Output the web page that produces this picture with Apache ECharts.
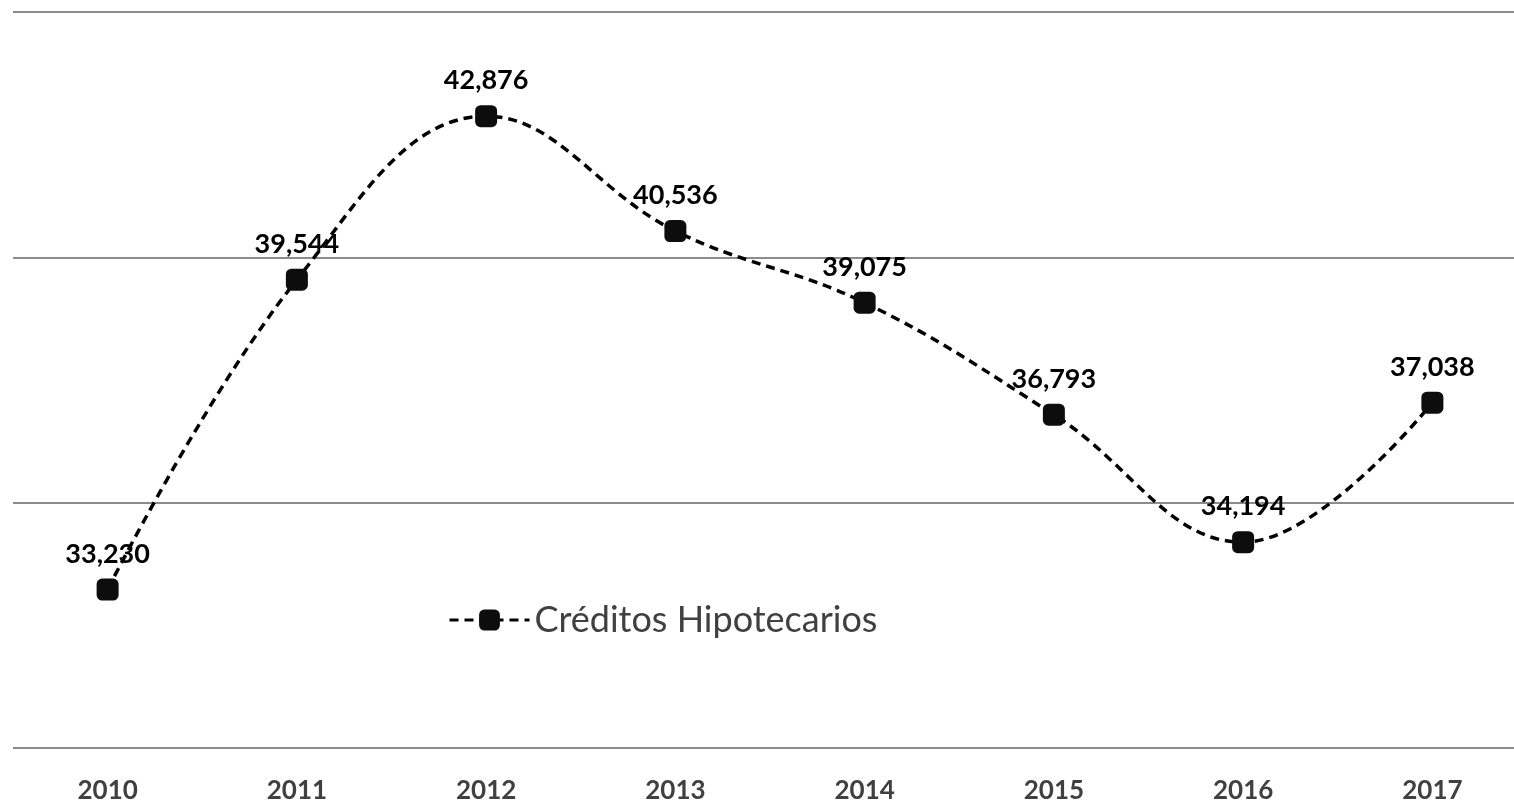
<!DOCTYPE html>
<html>
<head>
<meta charset="utf-8">
<title>Créditos Hipotecarios</title>
<script src="https://cdn.jsdelivr.net/npm/echarts@6/dist/echarts.min.js"></script>
<style>
  html, body { margin: 0; padding: 0; background: #fff; }
  #chart { width: 1514px; height: 805px; }
</style>
</head>
<body>
<div id="chart"></div>
<script>
const years = ["2010", "2011", "2012", "2013", "2014", "2015", "2016", "2017"]
const creditos = [33230, 39544, 42876, 40536, 39075, 36793, 34194, 37038]
const seriesName = "Créditos Hipotecarios"

const chart = echarts.init(document.getElementById("chart"))

const fmt = (v) => v.toLocaleString("en-US")

chart.setOption({
  animation: false,
  textStyle: { fontFamily: "Lato" },
  grid: {
    top: 12,
    left: 13,
    width: 1514,
    height: 736,
    outerBoundsMode: "none",
    containLabel: false,
  },
  legend: {
    left: 443,
    top: 597,
    itemWidth: 80,
    itemHeight: 26,
    itemGap: 8,
    textStyle: {
      fontFamily: "Lato",
      fontSize: 36,
      color: "#404040",
    },
    lineStyle: { width: 3, type: [9, 6], color: "#000" },
    data: [seriesName],
  },
  xAxis: {
    type: "category",
    data: years,
    boundaryGap: true,
    axisLine: { show: false },
    axisTick: { show: false },
    axisLabel: {
      margin: 30,
      fontFamily: "Lato",
      fontWeight: "bold",
      fontSize: 26,
      color: "#404040",
    },
  },
  yAxis: {
    type: "value",
    min: 30000,
    max: 45000,
    interval: 5000,
    axisLabel: { show: false },
    axisLine: { show: false },
    axisTick: { show: false },
    splitLine: {
      lineStyle: { color: "#8c8c8c", width: 2 },
    },
  },
  series: [
    {
      name: seriesName,
      type: "line",
      data: creditos,
      smooth: 0.4,
      symbol: "roundRect",
      symbolSize: 22,
      itemStyle: { color: "#0d0d0d" },
      lineStyle: { color: "#000", width: 3.5, type: [9, 6] },
      label: {
        show: true,
        position: "top",
        distance: 11,
        fontFamily: "Lato",
        fontWeight: "bold",
        fontSize: 27,
        color: "#000",
        formatter: (p) => fmt(p.value),
      },
    },
  ],
})
</script>
</body>
</html>
